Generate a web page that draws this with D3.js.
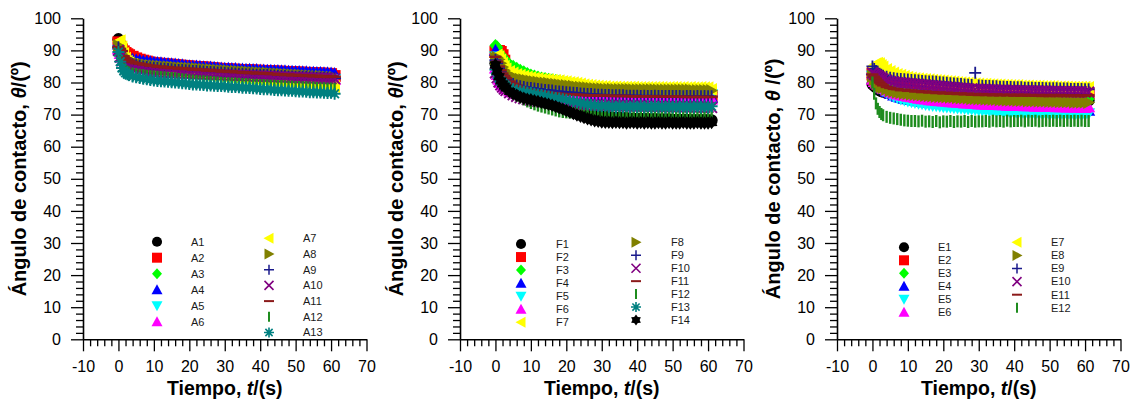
<!DOCTYPE html>
<html>
<head>
<meta charset="utf-8">
<script src="https://cdn.jsdelivr.net/npm/d3@7"></script>
<style>
  body { margin: 0; background: #fff; }
  svg text { font-family: "Liberation Sans", Arial, Helvetica, sans-serif; }
</style>
</head>
<body>
<script>

// sampling times (s), shared by every series
const times = [0,0.5,1,1.5,2,2.5,3, 4,5,6,7,8,9,10,
  11,12,13,14,15,16,17,18,19,20, 21,22,23,24,25,26,27,28,29,30,
  31,32,33,34,35,36,37,38,39,40, 41,42,43,44,45,46,47,48,49,50,
  51,52,53,54,55,56,57,58,59,60,61];

// ---- panel A
const A1 = [93.5,92.0,90.5,89.0,88.2,87.7,87.3, 86.9,86.6,86.3,86.1,85.9,85.7,85.5, 85.4,85.3,85.2,85.1,85.0,84.9,84.8,84.7,84.6,84.5, 84.4,84.3,84.2,84.1,84.0,83.9,83.8,83.8,83.7,83.6, 83.5,83.4,83.3,83.3,83.2,83.1,83.0,82.9,82.9,82.8, 82.7,82.6,82.6,82.5,82.4,82.3,82.2,82.2,82.1,82.0, 81.9,81.9,81.8,81.7,81.7,81.6,81.5,81.5,81.4,81.3,81.2];
const A2 = [92.5,91.2,90.3,89.7,89.2,88.8,88.5, 88.0,87.5,87.1,86.8,86.5,86.2,86.0, 85.9,85.8,85.7,85.6,85.5,85.4,85.3,85.2,85.1,85.0, 84.9,84.8,84.8,84.7,84.6,84.5,84.4,84.3,84.2,84.1, 84.1,84.0,84.0,83.9,83.9,83.8,83.8,83.7,83.7,83.6, 83.6,83.5,83.5,83.4,83.4,83.3,83.3,83.2,83.2,83.1, 83.1,83.0,83.0,82.9,82.9,82.8,82.8,82.7,82.7,82.6,82.0];
const A3 = [91.0,89.5,88.0,87.0,86.2,85.7,85.3, 84.9,84.6,84.4,84.2,84.0,83.9,83.8, 83.7,83.6,83.5,83.4,83.3,83.2,83.1,83.0,82.9,82.8, 82.7,82.6,82.5,82.4,82.3,82.2,82.1,82.0,81.9,81.8, 81.7,81.6,81.5,81.5,81.4,81.3,81.2,81.1,81.0,81.0, 80.9,80.8,80.7,80.7,80.6,80.5,80.4,80.4,80.3,80.2, 80.1,80.1,80.0,79.9,79.9,79.8,79.7,79.7,79.6,79.6,79.5];
const A4 = [92.0,90.3,89.2,88.5,88.0,87.7,87.5, 87.2,87.0,86.9,86.7,86.6,86.4,86.3, 86.2,86.1,86.0,85.9,85.8,85.7,85.6,85.5,85.3,85.2, 85.1,85.1,85.0,84.9,84.8,84.8,84.7,84.6,84.5,84.4, 84.4,84.3,84.3,84.2,84.2,84.1,84.1,84.0,84.0,83.9, 83.9,83.8,83.8,83.7,83.7,83.6,83.6,83.5,83.5,83.4, 83.4,83.3,83.3,83.2,83.2,83.1,83.1,83.0,83.0,82.9,82.8];
const A5 = [90.0,88.0,86.8,86.0,85.4,85.0,84.7, 84.3,84.0,83.8,83.6,83.4,83.2,83.1, 83.0,82.9,82.8,82.7,82.6,82.5,82.4,82.4,82.3,82.2, 82.1,82.1,82.0,81.9,81.9,81.8,81.7,81.7,81.6,81.6, 81.5,81.5,81.4,81.4,81.3,81.3,81.2,81.2,81.1,81.1, 81.0,81.0,80.9,80.9,80.9,80.8,80.8,80.7,80.7,80.7, 80.6,80.6,80.6,80.5,80.5,80.5,80.4,80.4,80.4,80.3,81.0];
const A6 = [90.5,89.0,87.8,87.0,86.4,86.0,85.7, 85.3,85.0,84.8,84.6,84.4,84.2,84.0, 83.9,83.8,83.7,83.6,83.5,83.5,83.4,83.3,83.2,83.2, 83.1,83.0,83.0,82.9,82.8,82.8,82.7,82.7,82.6,82.6, 82.5,82.5,82.4,82.4,82.3,82.3,82.2,82.2,82.1,82.0, 82.0,81.9,81.9,81.8,81.8,81.7,81.7,81.6,81.6,81.5, 81.5,81.4,81.4,81.3,81.3,81.2,81.2,81.1,81.1,81.0,81.0];
const A7 = [92.8,93.0,91.0,89.0,87.5,86.6,86.1, 85.6,85.2,84.9,84.6,84.4,84.2,84.0, 83.9,83.8,83.7,83.6,83.5,83.4,83.3,83.2,83.1,83.0, 82.9,82.8,82.7,82.6,82.5,82.4,82.3,82.2,82.1,82.0, 81.9,81.8,81.7,81.6,81.5,81.4,81.3,81.2,81.1,81.0, 80.9,80.8,80.7,80.6,80.5,80.4,80.3,80.2,80.1,80.0, 79.9,79.8,79.7,79.6,79.5,79.4,79.3,79.2,79.1,79.0,78.7];
const A8 = [91.5,90.0,88.8,88.0,87.4,87.0,86.7, 86.3,86.0,85.8,85.6,85.4,85.3,85.2, 85.1,85.0,84.9,84.9,84.8,84.7,84.6,84.6,84.5,84.4, 84.3,84.3,84.2,84.1,84.0,84.0,83.9,83.8,83.7,83.7, 83.6,83.5,83.5,83.4,83.3,83.3,83.2,83.1,83.1,83.0, 82.9,82.9,82.8,82.7,82.7,82.6,82.5,82.5,82.4,82.3, 82.3,82.2,82.1,82.1,82.0,81.9,81.9,81.8,81.7,81.7,81.6];
const A9 = [91.0,89.5,88.2,87.4,86.8,86.4,86.1, 85.7,85.4,85.2,85.0,84.8,84.7,84.6, 84.5,84.4,84.3,84.2,84.1,84.0,83.9,83.9,83.8,83.7, 83.6,83.6,83.5,83.4,83.3,83.3,83.2,83.1,83.1,83.0, 82.9,82.9,82.8,82.7,82.7,82.6,82.6,82.5,82.4,82.4, 82.3,82.3,82.2,82.2,82.1,82.0,82.0,81.9,81.9,81.8, 81.8,81.7,81.7,81.6,81.6,81.5,81.5,81.4,81.4,81.3,81.3];
const A10 = [90.0,88.0,86.8,86.0,85.5,85.1,84.8, 84.4,84.2,84.0,83.8,83.6,83.5,83.4, 83.3,83.3,83.2,83.2,83.1,83.1,83.0,83.0,82.9,82.9, 82.8,82.8,82.7,82.7,82.6,82.6,82.5,82.5,82.4,82.4, 82.3,82.3,82.3,82.2,82.2,82.1,82.1,82.1,82.0,82.0, 81.9,81.9,81.9,81.8,81.8,81.7,81.7,81.7,81.6,81.6, 81.5,81.5,81.5,81.4,81.4,81.4,81.3,81.3,81.3,81.2,81.2];
const A11 = [91.0,90.5,89.8,88.2,87.6,87.0,86.8, 86.4,86.0,85.9,85.6,85.5,85.2,85.2, 84.9,85.0,84.7,84.8,84.5,84.6,84.3,84.5,84.2,84.3, 84.0,84.2,83.9,84.0,83.7,83.9,83.6,83.7,83.4,83.6, 83.3,83.5,83.2,83.3,83.0,83.2,82.9,83.1,82.8,83.0, 82.7,82.9,82.6,82.7,82.4,82.6,82.3,82.5,82.2,82.4, 82.1,82.3,82.0,82.2,81.9,82.1,81.8,82.0,81.7,81.9,81.8];
const A12 = [89.0,86.5,85.0,84.2,83.7,83.4,83.1, 82.8,82.6,82.4,82.3,82.1,82.0,81.9, 81.8,81.7,81.6,81.5,81.4,81.3,81.1,81.0,80.9,80.7, 80.6,80.5,80.4,80.4,80.3,80.2,80.1,80.0,79.9,79.8, 79.8,79.7,79.7,79.6,79.5,79.5,79.4,79.3,79.3,79.2, 79.2,79.1,79.0,79.0,78.9,78.9,78.8,78.7,78.7,78.6, 78.6,78.5,78.5,78.4,78.4,78.3,78.2,78.2,78.1,78.1,78.0];
const A13 = [89.5,86.5,84.5,83.6,83.0,82.6,82.3, 81.9,81.6,81.4,81.2,81.0,80.8,80.6, 80.5,80.4,80.3,80.2,80.1,80.0,79.9,79.8,79.7,79.5, 79.4,79.4,79.3,79.2,79.1,79.1,79.0,78.9,78.9,78.8, 78.7,78.6,78.6,78.5,78.4,78.4,78.3,78.2,78.1,78.0, 77.9,77.9,77.8,77.7,77.6,77.6,77.5,77.4,77.4,77.3, 77.2,77.2,77.1,77.0,77.0,76.9,76.9,76.8,76.7,76.8,76.5];
const namesA = ['A1','A2','A3','A4','A5','A6','A7','A8','A9','A10','A11','A12','A13'];

// ---- panel F
const F1 = [86.0,84.2,82.5,81.3,80.4,79.7,79.1, 78.3,77.6,77.0,76.4,75.9,75.4,75.0, 74.6,74.3,74.0,73.7,73.5,73.2,72.9,72.5,72.1,71.7, 71.4,71.1,70.8,70.5,70.3,70.1,69.9,69.7,69.5,69.4, 69.3,69.2,69.1,69.0,69.0,68.9,68.9,68.8,68.8,68.7, 68.7,68.7,68.6,68.6,68.6,68.5,68.5,68.5,68.5,68.4, 68.4,68.4,68.4,68.4,68.3,68.3,68.3,68.3,68.3,68.3,68.2];
const F2 = [89.5,89.8,89.8,89.5,88.5,86.8,85.0, 83.0,81.8,81.0,80.4,79.9,79.5,79.2, 78.9,78.7,78.5,78.3,78.1,77.9,77.8,77.6,77.5,77.4, 77.3,77.2,77.1,77.0,76.9,76.8,76.8,76.7,76.6,76.6, 76.5,76.5,76.4,76.4,76.3,76.3,76.3,76.2,76.2,76.2, 76.1,76.1,76.1,76.0,76.0,76.0,76.0,75.9,75.9,75.9, 75.9,75.8,75.8,75.8,75.8,75.8,75.7,75.7,75.7,75.7,75.6];
const F3 = [91.5,91.0,89.5,88.6,88.0,87.3,86.7, 85.6,85.0,84.4,83.8,83.3,82.8,82.3, 82.0,81.7,81.4,81.2,81.0,80.8,80.6,80.4,80.2,80.0, 79.8,79.6,79.4,79.2,79.0,78.8,78.6,78.5,78.4,78.3, 78.2,78.1,78.0,78.0,77.9,77.8,77.8,77.7,77.7,77.6, 77.6,77.5,77.5,77.5,77.4,77.4,77.4,77.3,77.3,77.3, 77.3,77.2,77.2,77.2,77.2,77.1,77.1,77.1,77.1,77.1,77.0];
const F4 = [90.0,89.0,87.0,85.5,84.3,83.3,82.5, 81.5,80.8,80.2,79.7,79.3,79.0,78.7, 78.5,78.3,78.1,77.9,77.7,77.6,77.4,77.3,77.2,77.1, 77.0,76.9,76.8,76.7,76.6,76.5,76.5,76.4,76.3,76.3, 76.2,76.2,76.1,76.1,76.0,76.0,76.0,75.9,75.9,75.9, 75.8,75.8,75.8,75.8,75.7,75.7,75.7,75.7,75.6,75.6, 75.6,75.6,75.6,75.5,75.5,75.5,75.5,75.5,75.5,75.4,75.4];
const F5 = [88.0,86.5,85.0,83.8,82.8,82.0,81.3, 80.3,79.6,79.0,78.5,78.1,77.8,77.5, 77.3,77.1,76.9,76.8,76.7,76.6,76.5,76.4,76.3,76.2, 76.2,76.1,76.1,76.0,76.0,76.0,75.9,75.9,75.9,75.8, 75.8,75.8,75.9,75.8,75.8,75.9,75.8,75.8,75.9,75.8, 75.9,75.9,75.8,75.9,75.9,75.9,75.8,75.9,75.9,76.0, 75.9,76.0,76.0,75.9,76.0,76.0,76.0,76.0,76.1,76.0,76.2];
const F6 = [84.5,82.5,81.0,80.0,79.2,78.6,78.1, 77.4,76.9,76.5,76.2,76.0,75.8,75.6, 75.5,75.4,75.3,75.3,75.2,75.2,75.1,75.1,75.1,75.0, 75.0,75.0,75.0,74.9,74.9,75.0,74.9,74.9,75.0,74.9, 74.9,75.0,74.9,74.9,74.8,74.9,74.9,74.8,74.9,74.9, 74.8,74.9,74.8,74.8,74.9,74.8,74.8,74.8,74.9,74.8, 74.8,74.8,74.8,74.7,74.8,74.8,74.7,74.8,74.7,74.8,74.8];
const F7 = [88.0,88.5,88.0,87.0,86.0,85.0,84.2, 83.4,82.9,82.5,82.2,81.9,81.7,81.5, 81.3,81.2,81.0,80.9,80.8,80.7,80.6,80.5,80.3,80.2, 80.0,79.9,79.7,79.5,79.3,79.1,79.0,78.9,78.8,78.7, 78.7,78.6,78.6,78.6,78.5,78.5,78.5,78.5,78.5,78.4, 78.4,78.4,78.4,78.4,78.4,78.4,78.4,78.3,78.4,78.4, 78.4,78.3,78.4,78.3,78.4,78.3,78.3,78.4,78.3,78.3,77.8];
const F8 = [87.5,87.8,87.2,86.0,84.8,83.8,83.0, 82.2,81.7,81.3,81.0,80.8,80.6,80.4, 80.2,80.1,79.9,79.8,79.7,79.5,79.4,79.3,79.1,79.0, 78.9,78.8,78.6,78.5,78.4,78.3,78.2,78.1,78.0,78.0, 77.9,77.9,77.9,77.8,77.8,77.8,77.8,77.8,77.7,77.7, 77.7,77.7,77.7,77.7,77.7,77.6,77.6,77.6,77.6,77.6, 77.6,77.6,77.6,77.6,77.6,77.5,77.5,77.5,77.5,77.5,77.5];
const F9 = [87.0,86.0,84.5,83.3,82.3,81.5,80.8, 80.0,79.5,79.1,78.8,78.6,78.4,78.3, 78.1,78.0,77.8,77.7,77.6,77.5,77.3,77.2,77.1,77.0, 76.9,76.8,76.7,76.6,76.5,76.4,76.4,76.3,76.2,76.2, 76.1,76.1,76.0,76.0,76.0,76.0,75.9,75.9,75.9,75.9, 75.8,75.9,75.8,75.8,75.9,75.8,75.8,75.8,75.8,75.8, 75.8,75.8,75.7,75.8,75.8,75.7,75.8,75.7,75.8,75.7,75.7];
const F10 = [83.0,81.5,80.2,79.3,78.6,78.0,77.5, 76.8,76.2,75.7,75.3,75.0,74.7,74.5, 74.3,74.1,74.0,73.9,73.8,73.7,73.6,73.5,73.5,73.4, 73.3,73.3,73.2,73.2,73.1,73.1,73.0,73.0,73.0,72.9, 72.9,72.9,72.8,72.8,72.8,72.8,72.7,72.7,72.7,72.7, 72.7,72.6,72.6,72.6,72.6,72.6,72.6,72.5,72.5,72.5, 72.5,72.5,72.5,72.4,72.4,72.4,72.4,72.4,72.3,72.3,72.2];
const F11 = [88.0,86.5,85.0,83.8,82.8,82.0,81.3, 80.3,79.6,79.0,78.5,78.1,77.8,77.6, 77.4,77.2,77.1,76.9,76.8,76.7,76.6,76.5,76.4,76.3, 76.3,76.2,76.2,76.1,76.1,76.0,76.0,76.0,75.9,75.9, 75.9,75.9,75.8,75.8,75.8,75.8,75.8,75.7,75.7,75.7, 75.7,75.7,75.7,75.7,75.6,75.6,75.6,75.6,75.6,75.6, 75.6,75.6,75.5,75.5,75.5,75.5,75.5,75.5,75.5,75.5,75.5];
const F12 = [85.0,83.0,81.5,80.3,79.4,78.7,78.1, 77.2,76.5,75.9,75.4,74.7,74.1,73.6, 73.2,72.8,72.5,72.2,71.9,71.6,71.3,71.0,70.8,70.7, 70.6,70.6,70.5,70.5,70.5,70.4,70.4,70.4,70.3,70.3, 70.3,70.3,70.2,70.2,70.2,70.2,70.1,70.1,70.1,70.1, 70.1,70.0,70.0,70.0,70.0,70.0,70.0,69.9,69.9,69.9, 69.9,69.9,69.9,69.8,69.8,69.8,69.8,69.8,69.8,69.8,69.8];
const F13 = [84.0,82.5,81.3,80.5,79.9,79.3,78.9, 78.3,77.9,77.5,77.3,77.1,76.9,76.7, 76.5,76.3,76.1,75.9,75.6,75.4,75.2,75.0,74.8,74.6, 74.3,74.1,73.9,73.6,73.4,73.2,73.0,72.9,72.7,72.6, 72.9,72.3,72.8,72.2,72.9,72.3,72.7,72.2,72.8,72.3, 72.8,72.2,72.7,72.2,72.8,72.3,72.7,72.1,72.8,72.2, 72.7,72.2,72.8,72.1,72.7,72.2,72.8,72.2,72.7,72.2,72.6];
const F14 = [85.5,83.5,81.8,80.5,79.6,78.9,78.3, 77.2,76.6,76.0,75.5,75.1,74.8,74.6, 74.3,74.1,73.8,73.5,73.2,72.9,72.5,72.1,71.7,71.3, 70.8,70.3,69.9,69.5,69.1,68.7,68.4,68.1,67.9,67.7, 67.6,67.6,67.5,67.6,67.5,67.5,67.4,67.5,67.5,67.4, 67.5,67.4,67.5,67.4,67.4,67.5,67.4,67.4,67.5,67.4, 67.4,67.4,67.5,67.4,67.4,67.4,67.5,67.4,67.4,67.4,67.5];
const namesF = ['F1','F2','F3','F4','F5','F6','F7','F8','F9','F10','F11','F12','F13','F14'];

// ---- panel E
const E1 = [79.5,79.0,78.5,78.0,77.6,77.3,77.1, 76.8,76.6,76.4,76.3,76.2,76.1,76.0, 75.9,75.8,75.8,75.7,75.6,75.6,75.5,75.5,75.4,75.4, 75.3,75.3,75.3,75.2,75.2,75.1,75.1,75.1,75.0,75.0, 75.0,74.9,74.9,74.9,74.9,74.8,74.8,74.8,74.8,74.7, 74.7,74.7,74.7,74.7,74.6,74.6,74.6,74.6,74.6,74.5, 74.5,74.5,74.5,74.5,74.5,74.4,74.4,74.4,74.4,74.4,74.4];
const E2 = [82.5,82.0,81.5,81.0,80.6,80.2,79.9, 79.5,79.2,79.0,78.8,78.6,78.5,78.4, 78.3,78.2,78.1,78.0,78.0,77.9,77.9,77.8,77.8,77.7, 77.7,77.6,77.6,77.6,77.5,77.5,77.5,77.4,77.4,77.4, 77.3,77.3,77.3,77.3,77.2,77.2,77.2,77.2,77.1,77.1, 77.1,77.1,77.0,77.0,77.0,77.0,77.0,76.9,76.9,76.9, 76.9,76.9,76.8,76.8,76.8,76.8,76.8,76.8,76.7,76.7,76.6];
const E3 = [82.0,81.2,80.5,79.9,79.4,79.0,78.7, 78.2,77.8,77.5,77.3,77.1,76.9,76.8, 76.7,76.6,76.5,76.4,76.3,76.2,76.2,76.1,76.0,76.0, 75.9,75.9,75.8,75.8,75.7,75.7,75.6,75.6,75.6,75.5, 75.5,75.5,75.4,75.4,75.4,75.4,75.3,75.3,75.3,75.3, 75.2,75.2,75.2,75.2,75.2,75.1,75.1,75.1,75.1,75.1, 75.0,75.0,75.0,75.0,75.0,75.0,74.9,74.9,74.9,74.9,74.9];
const E4 = [84.0,82.5,81.0,80.0,79.2,78.5,78.0, 77.2,76.6,76.1,75.7,75.4,75.1,74.9, 74.7,74.5,74.3,74.1,74.0,73.9,73.8,73.7,73.6,73.5, 73.4,73.3,73.2,73.1,73.0,72.9,72.8,72.7,72.6,72.5, 72.4,72.3,72.2,72.1,72.0,71.9,71.8,71.7,71.6,71.6, 71.5,71.5,71.5,71.5,71.4,71.4,71.4,71.4,71.4,71.4, 71.4,71.4,71.3,71.3,71.3,71.3,71.3,71.3,71.3,71.3,71.3];
const E5 = [82.0,80.8,79.8,79.0,78.4,77.9,77.5, 76.8,76.2,75.7,75.3,74.9,74.6,74.3, 74.0,73.8,73.6,73.4,73.2,73.0,72.9,72.8,72.6,72.5, 72.4,72.3,72.2,72.1,72.0,71.9,71.8,71.7,71.6,71.5, 71.4,71.3,71.2,71.1,71.0,70.9,70.8,70.7,70.6,70.5, 70.4,70.4,70.3,70.3,70.3,70.2,70.2,70.2,70.2,70.1, 70.1,70.1,70.1,70.1,70.1,70.0,70.0,70.0,70.0,70.0,70.3];
const E6 = [81.0,80.3,79.8,79.4,79.0,78.6,78.2, 77.6,77.1,76.7,76.4,76.1,75.9,75.7, 75.5,75.3,75.1,74.9,74.8,74.6,74.5,74.4,74.3,74.2, 74.1,74.0,73.9,73.8,73.7,73.6,73.6,73.5,73.4,73.3, 73.3,73.2,73.2,73.1,73.1,73.0,73.0,72.9,72.9,72.8, 72.8,72.8,72.7,72.7,72.7,72.6,72.6,72.6,72.5,72.5, 72.5,72.4,72.4,72.4,72.3,72.3,72.3,72.3,72.2,72.2,72.4];
const E7 = [84.5,85.3,85.8,86.0,85.8,85.3,84.8, 84.0,83.4,82.9,82.5,82.2,81.9,81.6, 81.4,81.2,81.1,81.0,80.9,80.8,80.7,80.6,80.5,80.4, 80.3,80.2,80.1,80.0,79.9,79.8,79.7,79.6,79.6,79.5, 79.4,79.4,79.3,79.3,79.2,79.2,79.1,79.1,79.0,79.0, 79.0,78.9,78.9,78.9,78.8,78.8,78.8,78.7,78.7,78.7, 78.7,78.6,78.6,78.6,78.6,78.5,78.5,78.5,78.5,78.5,78.4];
const E8 = [82.0,81.0,80.2,79.6,79.1,78.7,78.4, 77.9,77.5,77.2,77.0,76.8,76.6,76.5, 76.4,76.3,76.2,76.1,76.0,75.9,75.8,75.7,75.6,75.6, 75.5,75.4,75.4,75.3,75.2,75.2,75.1,75.0,75.0,74.9, 74.9,74.8,74.8,74.7,74.7,74.6,74.6,74.5,74.5,74.5, 74.4,74.4,74.4,74.3,74.3,74.3,74.2,74.2,74.2,74.1, 74.1,74.1,74.0,74.0,74.0,74.0,73.9,73.9,73.9,73.9,73.8];
const E9 = [85.0,84.2,83.6,83.1,82.7,82.4,82.1, 81.8,81.5,81.3,81.2,81.1,81.0,80.9, 80.8,80.7,80.6,80.5,80.4,80.3,80.3,80.2,80.1,80.0, 79.9,79.8,79.7,79.6,79.5,79.4,79.3,79.2,83.0,79.1, 79.0,78.9,78.9,78.8,78.8,78.7,78.7,78.6,78.6,78.5, 78.5,78.5,78.4,78.4,78.4,78.3,78.3,78.3,78.2,78.2, 78.2,78.2,78.1,78.1,78.1,78.0,78.0,78.0,78.0,77.9,77.9];
const E10 = [83.0,82.6,82.3,82.0,81.7,81.4,81.1, 80.7,80.4,80.2,80.0,79.9,79.8,79.7, 79.6,79.5,79.4,79.3,79.2,79.1,79.0,78.9,78.8,78.7, 78.6,78.5,78.4,78.3,78.2,78.1,78.0,78.0,77.9,77.9, 77.8,77.8,77.7,77.7,77.6,77.6,77.6,77.5,77.5,77.5, 77.4,77.4,77.4,77.4,77.3,77.3,77.3,77.3,77.3,77.2, 77.2,77.2,77.2,77.2,77.1,77.1,77.1,77.1,77.1,77.0,77.0];
const E11 = [82.5,81.8,81.2,80.6,80.0,79.5,79.1, 78.6,78.3,78.0,77.9,77.6,77.7,77.4, 77.5,77.2,77.3,77.0,77.2,76.9,77.0,76.7,76.9,76.6, 76.8,76.5,76.7,76.4,76.6,76.3,76.5,76.2,76.4,76.1, 76.4,76.1,76.3,76.0,76.3,76.0,76.2,76.0,76.2,75.9, 76.2,75.9,76.2,75.9,76.1,75.9,76.1,75.8,76.1,75.8, 76.1,75.8,76.1,75.8,76.0,75.8,76.0,75.8,76.0,75.8,76.0];
const E12 = [80.0,76.5,73.5,71.8,70.8,70.2,69.8, 69.3,69.0,68.8,68.6,68.4,68.2,68.1, 68.0,68.0,67.9,68.1,67.8,67.9,67.7,68.0,67.6,67.9, 67.8,68.0,67.7,67.9,67.8,68.0,67.7,68.0,67.8,67.9, 67.9,68.0,67.8,68.1,67.9,68.0,67.8,68.1,67.9,68.0, 68.0,68.1,67.9,68.1,68.0,68.1,67.9,68.0,68.1,68.0, 68.1,68.0,68.1,68.0,68.1,68.0,68.1,68.0,68.1,68.0,68.0];
const namesE = ['E1','E2','E3','E4','E5','E6','E7','E8','E9','E10','E11','E12'];

// axis ticks
const xTicks = [-10, 0, 10, 20, 30, 40, 50, 60, 70];
const yTicks = [0, 10, 20, 30, 40, 50, 60, 70, 80, 90, 100];

// markers, same order in every panel
const shapes = ['circle','square','diamond','triUp','triDown','triUp','triLeft',
                'triRight','plus','times','dash','bar','asterisk','star6'];
const colors = ['#000000','#ff0000','#00ff00','#0000ff','#00ffff','#ff00ff','#ffff00',
                '#808000','#1a1a8c','#800080','#8b1a1a','#1e8c1e','#008080','#000000'];
const strokeShapes = {plus: 1.5, times: 1.6, dash: 2, bar: 2, asterisk: 1.6};

function markerPath(shape) {
  switch (shape) {
    case 'circle': return d3.symbol(d3.symbolCircle, 80)();
    case 'square': return 'M-5,-5H5V5H-5Z';
    case 'diamond': return 'M0,-5.5L5,0L0,5.5L-5,0Z';
    case 'triUp': return 'M0,-5.5L5.5,4.5H-5.5Z';
    case 'triDown': return 'M0,5.5L5.5,-4.5H-5.5Z';
    case 'triLeft': return 'M-5.5,0L4.5,-5.5V5.5Z';
    case 'triRight': return 'M5.5,0L-4.5,-5.5V5.5Z';
    case 'plus': return 'M-5,0H5M0,-5V5';
    case 'times': return 'M-4.5,-4.5L4.5,4.5M-4.5,4.5L4.5,-4.5';
    case 'dash': return 'M-5,0H5';
    case 'bar': return 'M0,-5V5';
    case 'asterisk': return 'M-5,0H5M0,-5V5M-3.6,-3.6L3.6,3.6M-3.6,3.6L3.6,-3.6';
    case 'star6': {
      let p = [];
      for (let k = 0; k < 12; k++) {
        const a = (k * 30 - 90) * Math.PI / 180, r = k % 2 ? 3.6 : 5.6;
        p.push([r * Math.cos(a), r * Math.sin(a)]);
      }
      return 'M' + p.map(d => d[0].toFixed(2) + ',' + d[1].toFixed(2)).join('L') + 'Z';
    }
  }
}

function styleMarker(sel, si) {
  const sw = strokeShapes[shapes[si]];
  if (sw) sel.attr('fill', 'none').attr('stroke', colors[si]).attr('stroke-width', sw);
  else sel.attr('fill', colors[si]);
}

// panel layout (pixels, relative to the y axis)
const panels = [
  {x0: 83, series: [A1,A2,A3,A4,A5,A6,A7,A8,A9,A10,A11,A12,A13], names: namesA, sep: '',
   leg: [{mx: 74, tx: 108, y0: 241.7, dy: 16.0, n: 6}, {mx: 186, tx: 220, y0: 238.3, dy: 15.7, n: 7}]},
  {x0: 460, series: [F1,F2,F3,F4,F5,F6,F7,F8,F9,F10,F11,F12,F13,F14], names: namesF, sep: '',
   leg: [{mx: 61, tx: 96, y0: 244, dy: 13.05, n: 7}, {mx: 176, tx: 211, y0: 242.3, dy: 12.95, n: 7}]},
  {x0: 837, series: [E1,E2,E3,E4,E5,E6,E7,E8,E9,E10,E11,E12], names: namesE, sep: ' ',
   leg: [{mx: 67, tx: 101, y0: 247.3, dy: 13.0, n: 6}, {mx: 180, tx: 214, y0: 242.3, dy: 13.1, n: 6}]}
];

const svg = d3.select('body').append('svg')
  .attr('width', 1137).attr('height', 405);

function drawPanel(p) {
  const x = d3.scaleLinear().domain([-10, 70]).range([p.x0, p.x0 + 283.5]);
  const y = d3.scaleLinear().domain([0, 100]).range([339.3, 18.3]);
  const g = svg.append('g');

  // data markers, series in order so later ones sit on top (a bit bigger than in the legend)
  p.series.forEach(function(vals, si) {
    const pts = times.map((t, i) => [t, vals[i]]).filter(d => d[1] != null);
    g.append('g').selectAll('path').data(pts).enter().append('path')
      .attr('d', markerPath(shapes[si]))
      .attr('transform', d => 'translate(' + x(d[0]) + ',' + y(d[1]) + ') scale(1.2)')
      .call(styleMarker, si);
  });

  // minor ticks
  const minorX = d3.range(-10, 71, 2).filter(v => v % 10 !== 0);
  const minorY = d3.range(0, 101, 2).filter(v => v % 10 !== 0);
  g.append('g').attr('transform', 'translate(0,' + y(0) + ')')
    .call(d3.axisBottom(x).tickValues(minorX).tickSize(7).tickFormat(''))
    .call(a => a.select('.domain').remove());
  g.append('g').attr('transform', 'translate(' + x(-10) + ',0)')
    .call(d3.axisLeft(y).tickValues(minorY).tickSize(7).tickFormat(''))
    .call(a => a.select('.domain').remove());

  // major ticks + labels
  g.append('g').attr('class', 'xaxis').attr('transform', 'translate(0,' + y(0) + ')')
    .call(d3.axisBottom(x).tickValues(xTicks).tickSize(12).tickSizeOuter(0)
      .tickPadding(9).tickFormat(d => String(d)));
  g.append('g').attr('class', 'yaxis').attr('transform', 'translate(' + x(-10) + ',0)')
    .call(d3.axisLeft(y).tickValues(yTicks).tickSize(12).tickSizeOuter(0)
      .tickPadding(10).tickFormat(d => String(d)));

  g.selectAll('.domain').attr('stroke', '#000').attr('stroke-width', 1.6);
  g.selectAll('.tick line').attr('stroke', '#000').attr('stroke-width', 1.3);
  g.selectAll('.tick text').attr('font-size', 16)
    .attr('font-family', '"Liberation Sans", Arial, sans-serif').attr('fill', '#000');

  // axis titles
  const xt = g.append('text')
    .attr('x', x(30)).attr('y', 395)
    .attr('text-anchor', 'middle').attr('font-size', 19.5).attr('font-weight', 'bold');
  xt.append('tspan').text('Tiempo, ');
  xt.append('tspan').attr('font-style', 'italic').text('t');
  xt.append('tspan').text('/(s)');

  const yt = g.append('text')
    .attr('transform', 'translate(' + (p.x0 - 57) + ',' + y(50) + ') rotate(-90)')
    .attr('text-anchor', 'middle').attr('font-size', 20).attr('font-weight', 'bold');
  yt.append('tspan').text('Ángulo de contacto, ');
  yt.append('tspan').attr('font-style', 'italic').text('θ');
  yt.append('tspan').text(p.sep + '/(º)');

  // legend, two columns
  let si = 0;
  p.leg.forEach(function(col) {
    for (let r = 0; r < col.n; r++, si++) {
      const ly = col.y0 + r * col.dy;
      g.append('path')
        .attr('d', markerPath(shapes[si]))
        .attr('transform', 'translate(' + (p.x0 + col.mx) + ',' + ly + ')')
        .call(styleMarker, si);
      g.append('text')
        .attr('x', p.x0 + col.tx).attr('y', ly).attr('dy', '0.35em')
        .attr('font-size', 11).attr('fill', '#1a1a1a')
        .text(p.names[si]);
    }
  });
}

panels.forEach(drawPanel);
</script>
</body>
</html>
